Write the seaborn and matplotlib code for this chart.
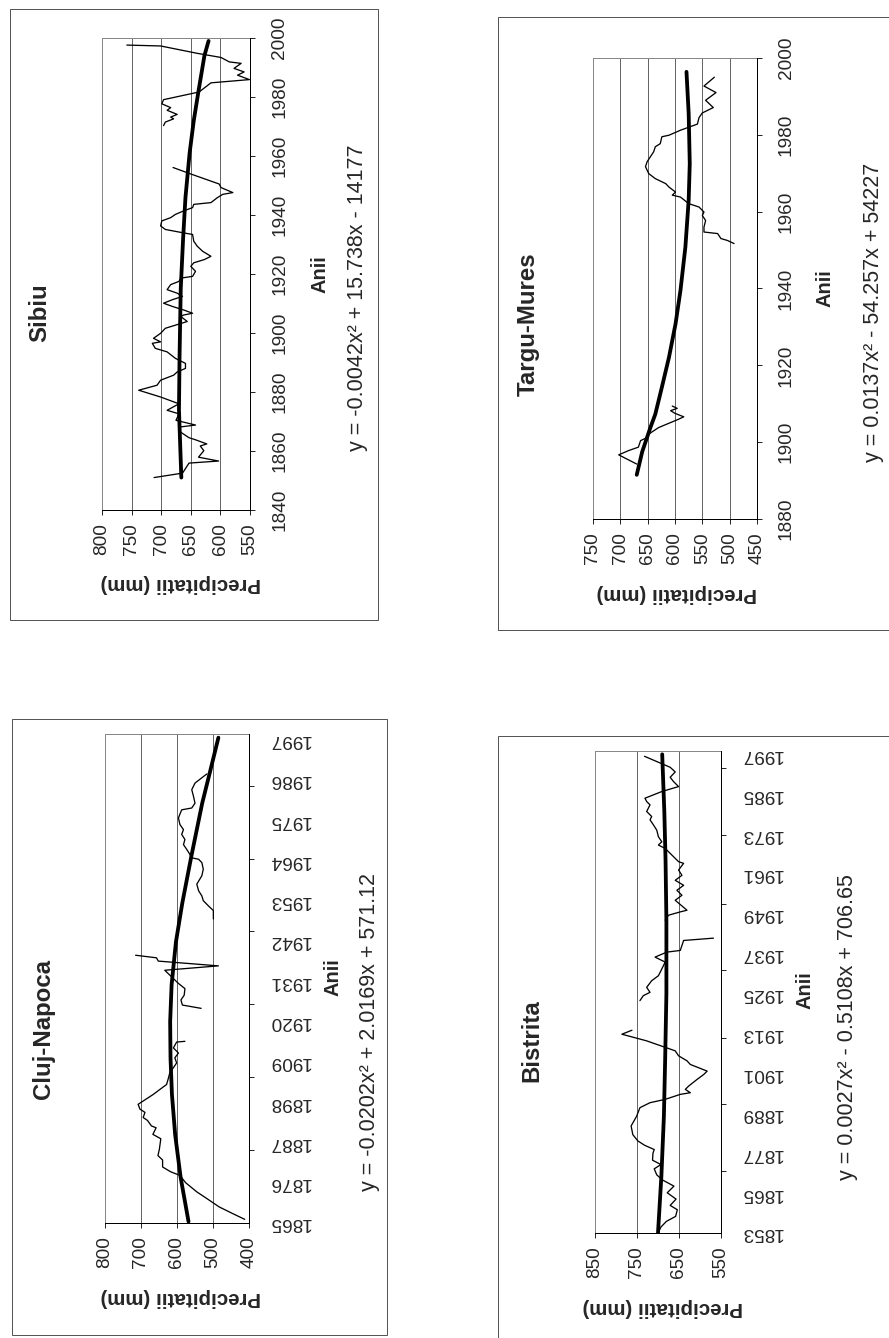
import numpy as np
import pandas as pd
import matplotlib
matplotlib.use("Agg")
import matplotlib.pyplot as plt
import seaborn as sns
from matplotlib.patches import Rectangle

W, H = 889, 1338
nan = np.nan

# ---- values (year, precipitation mm); nan = gap in the series
sibiu_years = [1851.0, 1852.5, 1855.9, 1856.6, 1857.9, 1860.1, 1861.7, 1862.4, 1863.8, 1864.5,
               1866.5, 1868.1, 1868.8, 1870.4, 1872.6, 1873.8, 1876.0, 1878.3, 1880.6, 1882.3,
               1884.0, 1885.7, 1886.8, 1888.0, 1889.7, 1891.4, 1893.6, 1894.8, 1896.5, 1897.0,
               1898.2, 1899.9, 1901.6, 1903.9, 1905.6, 1906.1, 1906.7, 1907.8, 1909.0, 1910.1,
               1911.3, 1912.4, 1913.5, 1914.7, 1916.4, 1917.5, 1918.6, 1919.2, 1920.9, 1922.6,
               1923.8, 1924.9, 1926.0, 1927.7, 1929.4, 1931.1, 1933.4, 1934.0, 1935.1, 1936.3,
               1938.0, 1939.1, 1940.2, 1941.4, 1942.5, 1943.6, 1944.2, 1945.9, 1947.0, 1947.6,
               1949.3, 1950.5, 1953.9, 1956.1, nan,
               1970.3, 1971.5, 1972.6, 1973.2, 1974.1, 1975.5, 1976.4, 1977.7, 1979.1, 1981.7,
               1983.4, 1984.8, 1985.9, 1987.4, 1988.5, 1989.7, 1991.4, 1991.9, 1993.4, 1994.8,
               1997.3, 1997.6]
sibiu_precip = [712, 664, 653, 603, 637, 628, 634, 623, 642, 653,
                668, 670, 642, 675, 670, 690, 670, 701, 738, 707,
                701, 679, 673, 659, 659, 676, 690, 710, 715, 701,
                713, 701, 693, 656, 667, 662, 647, 662, 681, 696,
                681, 664, 673, 690, 684, 670, 667, 647, 642, 650,
                645, 627, 616, 630, 639, 645, 647, 664, 693, 701,
                699, 684, 676, 662, 647, 645, 616, 605, 596, 579,
                599, 602, 650, 680, nan,
                696, 693, 679, 684, 673, 690, 684, 699, 696, 636,
                625, 616, 551, 571, 560, 577, 565, 585, 599, 639,
                701, 758]
sibiu_trend_years = [1851, 1874, 1892, 1915, 1932, 1946, 1961, 1972, 1982, 1994, 1999]
sibiu_trend = [666, 670, 669, 667, 663, 659, 652, 645, 637, 627, 620]

targu_years = [1894.3, 1896.7, 1897.8, 1898.7, 1900.4, 1901.0, 1902.1, 1903.8, 1906.0, 1906.6,
               1907.5, 1908.2, 1908.8, 1909.4, nan,
               1951.7, 1952.5, 1953.0, 1954.3, 1954.7, 1956.0, 1957.7, 1959.0, 1959.9, 1961.2,
               1962.1, 1963.8, 1964.3, 1965.1, 1966.4, 1967.3, 1968.6, 1969.9, 1971.7, 1973.0,
               1974.3, 1975.6, 1976.9, 1977.7, 1979.5, 1979.9, 1981.2, 1982.8, 1984.5, 1985.7,
               1987.1, 1989.0, 1991.0, 1992.7, 1995.0]
targu_precip = [670, 703, 685, 667, 663, 654, 648, 630, 593, 584,
                600, 608, 596, 605, nan,
                492, 504, 516, 522, 547, 547, 544, 550, 547, 556,
                575, 590, 605, 599, 611, 617, 636, 648, 654, 651,
                645, 639, 636, 627, 624, 611, 590, 559, 556, 550,
                530, 544, 525, 547, 528]
targu_trend_years = [1891.5, 1897.5, 1903.8, 1907.3, 1914.3, 1922.1, 1930.8, 1939.5, 1950.8,
                     1963.0, 1972.5, 1985.6, 1996.4]
targu_trend = [670, 660, 645, 636, 624, 611, 599, 590, 581, 575, 573, 575, 579]

cluj_years = [1866.0, 1867.7, 1869.4, 1871.8, 1873.5, 1876.0, 1878.0, 1879.0, 1880.3, 1882.2,
              1883.4, 1885.1, 1888.0, 1889.2, 1891.0, 1891.5, 1893.0, 1893.8, 1895.2, 1896.1,
              1897.4, 1898.3, 1899.2, 1900.1, 1901.5, 1902.8, 1904.5, 1906.0, 1907.4, 1908.7,
              1910.1, 1911.4, 1912.8, 1914.4, 1914.6, nan,
              1923.6, 1924.5, 1925.9, 1927.2, 1929.0, 1930.4, 1932.2, 1934.0, 1935.2, 1936.5,
              1937.4, 1938.1, nan,
              1948.0, 1950.3, 1951.6, 1953.0, 1954.3, 1955.7, 1957.5, 1959.8, 1961.6, 1963.4,
              1964.3, 1964.7, 1965.6, 1967.0, 1968.3, 1969.7, 1971.1, 1972.4, 1973.8, 1975.6,
              1977.8, 1978.3, 1979.6, 1981.4, 1983.3, 1985.1, 1986.7, 1987.6]
cluj_precip = [412, 448, 483, 519, 545, 576, 592, 618, 640, 640,
               653, 649, 645, 667, 658, 671, 682, 694, 689, 703,
               708, 694, 680, 666, 647, 629, 624, 620, 610, 601,
               606, 596, 610, 601, 578, nan,
               533, 585, 589, 580, 578, 596, 615, 634, 485, 652,
               657, 715, nan,
               499, 499, 513, 527, 531, 540, 545, 531, 527, 531,
               540, 559, 564, 573, 582, 578, 587, 582, 592, 596,
               587, 559, 550, 554, 559, 550, 529, 517]
cluj_trend_years = [1865.4, 1877.5, 1889, 1900, 1910, 1920, 1930, 1941.7, 1952.5, 1965.2,
                    1979.6, 1988.7, 1997.5]
cluj_trend = [568, 590, 605, 614, 618, 619, 615, 603, 585, 560, 530, 507, 485]

bistrita_years = [1852.8, 1854.8, 1856.5, 1858.0, 1860.0, 1861.3, 1863.2, 1865.1, 1867.1, 1869.0,
                  1870.5, 1872.3, 1873.6, 1874.9, 1877.0, 1878.1, 1879.4, 1880.7, 1882.6, 1885.2,
                  1888.1, 1890.7, 1892.2, 1893.2, 1894.7, 1895.2, 1896.2, 1897.2, 1899.2, 1900.7,
                  1901.7, 1902.7, 1903.7, 1904.8, 1906.3, 1907.8, 1910.8, 1912.8, 1914.0, nan,
                  1922.9, 1924.4, 1925.4, 1926.9, 1928.9, 1930.4, 1932.4, 1934.5, 1936.0, 1937.5,
                  1938.0, 1941.0, 1941.7, nan,
                  1947.1, 1948.6, 1949.6, 1950.1, 1953.1, 1954.6, 1956.1, 1957.6, 1959.1, 1960.6,
                  1962.2, 1964.2, 1964.7, 1966.2, 1967.2, 1968.7, 1969.7, 1970.7, 1972.2, 1974.2,
                  1975.8, 1977.3, 1978.3, 1979.8, 1981.8, 1982.8, 1983.8, 1985.8, 1987.3, 1988.8,
                  1990.1, 1991.7, 1993.1, 1996.4]
bistrita_precip = [701, 693, 680, 658, 654, 671, 657, 678, 662, 690,
                   703, 709, 693, 713, 712, 709, 732, 748, 760, 764,
                   751, 743, 719, 683, 647, 623, 635, 627, 607, 591,
                   583, 603, 623, 631, 651, 659, 727, 786, 762, nan,
                   743, 735, 719, 727, 715, 699, 691, 683, 707, 679,
                   647, 639, 568, nan,
                   683, 675, 647, 631, 659, 643, 655, 639, 659, 643,
                   651, 639, 651, 663, 671, 683, 699, 691, 699, 703,
                   711, 719, 715, 727, 719, 727, 731, 691, 651, 663,
                   671, 659, 671, 732]
bistrita_trend_years = [1853, 1870, 1888, 1905, 1925, 1947, 1965, 1980, 1997]
bistrita_trend = [700, 692, 686, 683, 680, 680, 682, 685, 690]

# ---- layout, in pixels of the 889x1338 page
panels = [
    dict(name="Sibiu", years=sibiu_years, precip=sibiu_precip,
         t_years=sibiu_trend_years, trend=sibiu_trend,
         eq="y = -0.0042x² + 15.738x - 14177",
         box=(102, 38, 250, 510), frame=(10, 9, 378, 620),
         xlim=(800, 550), xticks=[800, 750, 700, 650, 600, 550],
         ylim=(1840, 2000), yticks=list(range(1840, 2001, 20)), yminor=None,
         yrot=90, title_xy=(40, 313), anii_xy=(320, 274), eq_xy=(357, 298), xl_xy=(181, 583)),
    dict(name="Targu-Mures", years=targu_years, precip=targu_precip,
         t_years=targu_trend_years, trend=targu_trend,
         eq="y = 0.0137x² - 54.257x + 54227",
         box=(593, 58, 757, 519), frame=(498, 17, 900, 630),
         xlim=(750, 450), xticks=[750, 700, 650, 600, 550, 500, 450],
         ylim=(1880, 2000), yticks=list(range(1880, 2001, 20)), yminor=None,
         yrot=90, title_xy=(528, 324), anii_xy=(825, 288), eq_xy=(873, 312), xl_xy=(677, 593)),
    dict(name="Cluj-Napoca", years=cluj_years, precip=cluj_precip,
         t_years=cluj_trend_years, trend=cluj_trend,
         eq="y = -0.0202x² + 2.0169x + 571.12",
         box=(105, 734, 249, 1223), frame=(12, 719, 387, 1335),
         xlim=(800, 400), xticks=[800, 700, 600, 500, 400],
         ylim=(1865, 1998.5), yticks=list(range(1865, 1998, 11)),
         yminor=[1884.9, 1904.8, 1924.7, 1944.6, 1964.5, 1984.4],
         yrot=180, title_xy=(43, 1029), anii_xy=(333, 977), eq_xy=(370, 1032), xl_xy=(181, 1297)),
    dict(name="Bistrita", years=bistrita_years, precip=bistrita_precip,
         t_years=bistrita_trend_years, trend=bistrita_trend,
         eq="y = 0.0027x² - 0.5108x + 706.65",
         box=(595, 751, 721, 1233), frame=(498, 736, 900, 1350),
         xlim=(850, 550), xticks=[850, 750, 650, 550],
         ylim=(1853, 1998), yticks=list(range(1853, 1998, 12)),
         yminor=[1871.6, 1891.7, 1911.8, 1932.0, 1952.0, 1972.8, 1992.9],
         yrot=180, title_xy=(532, 1041), anii_xy=(805, 990), eq_xy=(847, 1027), xl_xy=(663, 1307)),
]


def fx(px):
    return px / W


def fy(py):
    return 1 - py / H


def segments(years, values):
    """table with one row per point, split into pieces at the nan gaps"""
    df = pd.DataFrame({"year": years, "precip": values})
    df["seg"] = df["precip"].isna().cumsum()
    return df.dropna()


sns.set_style("white")
plt.rcParams["font.family"] = ["Liberation Sans", "DejaVu Sans"]

fig = plt.figure(figsize=(W / 72, H / 72), dpi=72)
fig.patch.set_facecolor("white")

for p in panels:
    # outer chart border
    x0, y0, x1, y1 = p["frame"]
    fig.add_artist(Rectangle((fx(x0), fy(y1)), (x1 - x0) / W, (y1 - y0) / H,
                             transform=fig.transFigure, fill=False, ec="#555555", lw=1.0))

    x0, y0, x1, y1 = p["box"]
    ax = fig.add_axes([fx(x0), fy(y1), (x1 - x0) / W, (y1 - y0) / H])

    sns.lineplot(data=segments(p["years"], p["precip"]), x="precip", y="year", units="seg",
                 estimator=None, sort=False, orient="y", color="black", lw=1.3, ax=ax, legend=False)
    sns.lineplot(data=segments(p["t_years"], p["trend"]), x="precip", y="year", units="seg",
                 estimator=None, sort=False, orient="y", color="black", lw=3.8, ax=ax, legend=False)

    ax.set_xlim(p["xlim"])
    ax.set_ylim(p["ylim"])
    ax.set_xlabel("")
    ax.set_ylabel("")

    # precipitation axis (drawn at the bottom, labels turned)
    ax.set_xticks(p["xticks"])
    ax.set_xticklabels([str(v) for v in p["xticks"]], rotation=90, fontsize=19, va="top", ha="center")
    ax.tick_params(axis="x", direction="out", length=5, width=1, pad=8, bottom=True)
    ax.grid(axis="x", color="#555555", lw=0.9)
    ax.grid(axis="y", visible=False)
    ax.set_axisbelow(True)

    # years axis (drawn at the right)
    ax.yaxis.tick_right()
    ax.set_yticks(p["yticks"])
    ax.set_yticklabels([str(v) for v in p["yticks"]], rotation=p["yrot"], fontsize=19,
                       va="center", ha="left")
    if p["yminor"] is None:
        ax.tick_params(axis="y", which="major", direction="out", length=5, width=1, pad=16)
    else:
        ax.set_yticks(p["yminor"], minor=True)
        ax.tick_params(axis="y", which="major", length=0, pad=19)
        ax.tick_params(axis="y", which="minor", direction="out", length=5, width=1,
                       right=True, left=False)

    for side in ["top", "left"]:
        ax.spines[side].set_color("#888888")
        ax.spines[side].set_linestyle((0, (1, 1)))
        ax.spines[side].set_linewidth(1.0)
    for side in ["right", "bottom"]:
        ax.spines[side].set_color("black")
        ax.spines[side].set_linewidth(1.0)

    tx, ty = p["title_xy"]
    fig.text(fx(tx), fy(ty), p["name"], rotation=90, fontsize=24, fontweight="bold",
             ha="center", va="center")
    tx, ty = p["anii_xy"]
    fig.text(fx(tx), fy(ty), "Anii", rotation=90, fontsize=20, fontweight="bold",
             ha="center", va="center")
    tx, ty = p["eq_xy"]
    fig.text(fx(tx), fy(ty), p["eq"], rotation=90, fontsize=21.5, ha="center", va="center")
    tx, ty = p["xl_xy"]
    fig.text(fx(tx), fy(ty), "Precipitatii (mm)", rotation=180, fontsize=20.5, fontweight="bold",
             ha="center", va="center")

fig.savefig("out.png", dpi=72, facecolor="white")
